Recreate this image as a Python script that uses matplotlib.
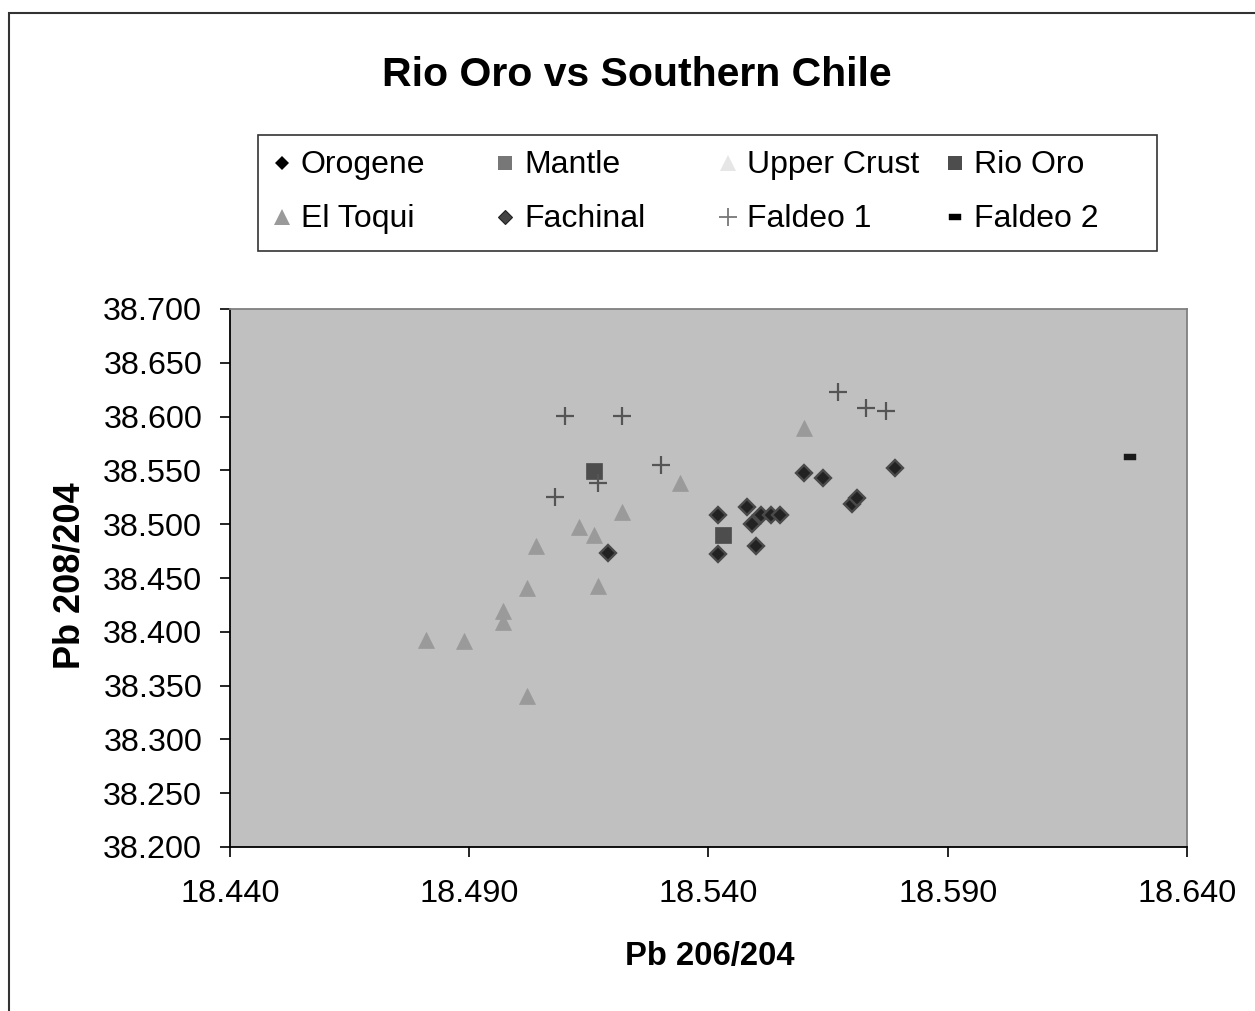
import matplotlib
matplotlib.use("Agg")
import matplotlib.pyplot as plt
from matplotlib.patches import Rectangle
from matplotlib.lines import Line2D

plt.rcParams['font.family'] = ['Liberation Sans', 'DejaVu Sans']

# ---- data ----
orogene_x, orogene_y = [], []
mantle_x, mantle_y = [], []
upper_crust_x, upper_crust_y = [], []
rio_oro_x = [18.516, 18.543]
rio_oro_y = [38.549, 38.490]
el_toqui_x = [18.534, 18.522, 18.513, 18.516, 18.504, 18.502, 18.517, 18.497,
              18.497, 18.481, 18.489, 18.502, 18.560]
el_toqui_y = [38.538, 38.511, 38.497, 38.490, 38.480, 38.441, 38.443, 38.419,
              38.409, 38.392, 38.391, 38.340, 38.589]
fachinal_x = [18.519, 18.560, 18.564, 18.579, 18.570, 18.571, 18.542, 18.542,
              18.548, 18.549, 18.551, 18.553, 18.555, 18.550]
fachinal_y = [38.473, 38.548, 38.543, 38.552, 38.519, 38.524, 38.509, 38.472,
              38.516, 38.500, 38.509, 38.509, 38.509, 38.480]
faldeo1_x = [18.510, 18.522, 18.530, 18.517, 18.508, 18.567, 18.573, 18.577]
faldeo1_y = [38.601, 38.601, 38.555, 38.538, 38.525, 38.623, 38.608, 38.605]
faldeo2_x = [18.628]
faldeo2_y = [38.562]

x_ticks = [18.440, 18.490, 18.540, 18.590, 18.640]
y_ticks = [38.200, 38.250, 38.300, 38.350, 38.400, 38.450, 38.500, 38.550,
           38.600, 38.650, 38.700]

W, H = 1255, 1011
fig = plt.figure(figsize=(W / 100, H / 100), dpi=100)
fig.patch.set_facecolor('white')

# outer chart border
fig.patches.append(Rectangle((9 / W, -0.01), 1.5, 1 - 13 / H + 0.01,
                             transform=fig.transFigure, fill=False,
                             edgecolor='#333333', linewidth=1.5))

ax = fig.add_axes([230 / W, 1 - 847 / H, (1187 - 230) / W, (847 - 309) / H])
ax.set_facecolor('#c0c0c0')
ax.set_xlim(18.440, 18.640)
ax.set_ylim(38.200, 38.700)

dash = [(-1, -0.55), (1, -0.55), (1, 0.55), (-1, 0.55), (-1, -0.55)]

styles = {
    'Orogene': dict(marker='D', color='black', ms=7, mec='black', mew=0),
    'Mantle': dict(marker='s', color='#777777', ms=10, mec='#777777', mew=0),
    'Upper Crust': dict(marker='^', color='#e6e6e6', ms=11, mec='#e6e6e6', mew=0),
    'Rio Oro': dict(marker='s', color='#4d4d4d', ms=11.5, mec='#4d4d4d', mew=0.5),
    'El Toqui': dict(marker='^', color='#9a9a9a', ms=12, mec='#9a9a9a', mew=0.5),
    'Fachinal': dict(marker='D', color='#222222', ms=7.8, mec='#4a4a4a', mew=1.7),
    'Faldeo 1': dict(marker='+', color='#555555', ms=13, mec='#555555', mew=1.6),
    'Faldeo 2': dict(marker=dash, color='#1a1a1a', ms=8.6, mec='#1a1a1a', mew=0.3),
}

series = [
    ('Orogene', orogene_x, orogene_y),
    ('Mantle', mantle_x, mantle_y),
    ('Upper Crust', upper_crust_x, upper_crust_y),
    ('Rio Oro', rio_oro_x, rio_oro_y),
    ('El Toqui', el_toqui_x, el_toqui_y),
    ('Fachinal', fachinal_x, fachinal_y),
    ('Faldeo 1', faldeo1_x, faldeo1_y),
    ('Faldeo 2', faldeo2_x, faldeo2_y),
]

for name, xs, ys in series:
    st = styles[name]
    ax.plot(xs, ys, linestyle='none', marker=st['marker'], markersize=st['ms'],
            markerfacecolor=st['color'], markeredgecolor=st['mec'],
            markeredgewidth=st['mew'], label=name, zorder=3)

ax.set_xticks(x_ticks)
ax.set_xticklabels([f'{v:.3f}' for v in x_ticks])
ax.set_yticks(y_ticks)
ax.set_yticklabels([f'{v:.3f}' for v in y_ticks])
ax.tick_params(axis='both', direction='out', length=7, width=1.2, labelsize=23.3,
               color='black')
ax.tick_params(axis='y', pad=13)
ax.tick_params(axis='x', pad=16)

for side in ['left', 'bottom']:
    ax.spines[side].set_color('black')
    ax.spines[side].set_linewidth(1.3)
for side in ['top', 'right']:
    ax.spines[side].set_color('#808080')
    ax.spines[side].set_linewidth(1.3)

fig.text(637 / W, 1 - 75 / H, 'Rio Oro vs Southern Chile', ha='center',
         va='center', fontsize=29.5, fontweight='bold')
fig.text(710 / W, 1 - 956 / H, 'Pb 206/204', ha='center', va='center',
         fontsize=23.6, fontweight='bold')
fig.text(70 / W, 1 - 576 / H, 'Pb 208/204', ha='center', va='center',
         fontsize=26, fontweight='bold', rotation=90)

# ---- legend box (manual, Excel-like layout) ----
fig.patches.append(Rectangle((258 / W, 1 - 251 / H), (1157 - 258) / W,
                             (251 - 135) / H, transform=fig.transFigure,
                             fill=False, edgecolor='#333333', linewidth=1.2))
col_marker_x = [282, 505, 728, 955]
row_y = [163, 217]
leg_styles = {
    'Orogene': dict(marker='D', color='black', ms=7, mec='black', mew=0),
    'Mantle': dict(marker='s', color='#777777', ms=10.5, mec='#777777', mew=0),
    'Upper Crust': dict(marker='^', color='#e6e6e6', ms=12, mec='#e6e6e6', mew=0),
    'Rio Oro': dict(marker='s', color='#4d4d4d', ms=10.5, mec='#4d4d4d', mew=0),
    'El Toqui': dict(marker='^', color='#9a9a9a', ms=12, mec='#9a9a9a', mew=0),
    'Fachinal': dict(marker='D', color='#444444', ms=7, mec='#222222', mew=0.8),
    'Faldeo 1': dict(marker='+', color='#777777', ms=13, mec='#777777', mew=1.3),
    'Faldeo 2': dict(marker=dash, color='black', ms=8, mec='black', mew=0.3),
}
for i, (name, _, _) in enumerate(series):
    r, c = divmod(i, 4)
    mx = col_marker_x[c] / W
    my = 1 - row_y[r] / H
    st = leg_styles[name]
    fig.add_artist(Line2D([mx], [my], transform=fig.transFigure, linestyle='none',
                          marker=st['marker'], markersize=st['ms'],
                          markerfacecolor=st['color'], markeredgecolor=st['mec'],
                          markeredgewidth=st['mew']))
    fig.text(mx + 19 / W, my - 2 / H, name, ha='left', va='center', fontsize=23)

fig.savefig('out.png', dpi=100)
